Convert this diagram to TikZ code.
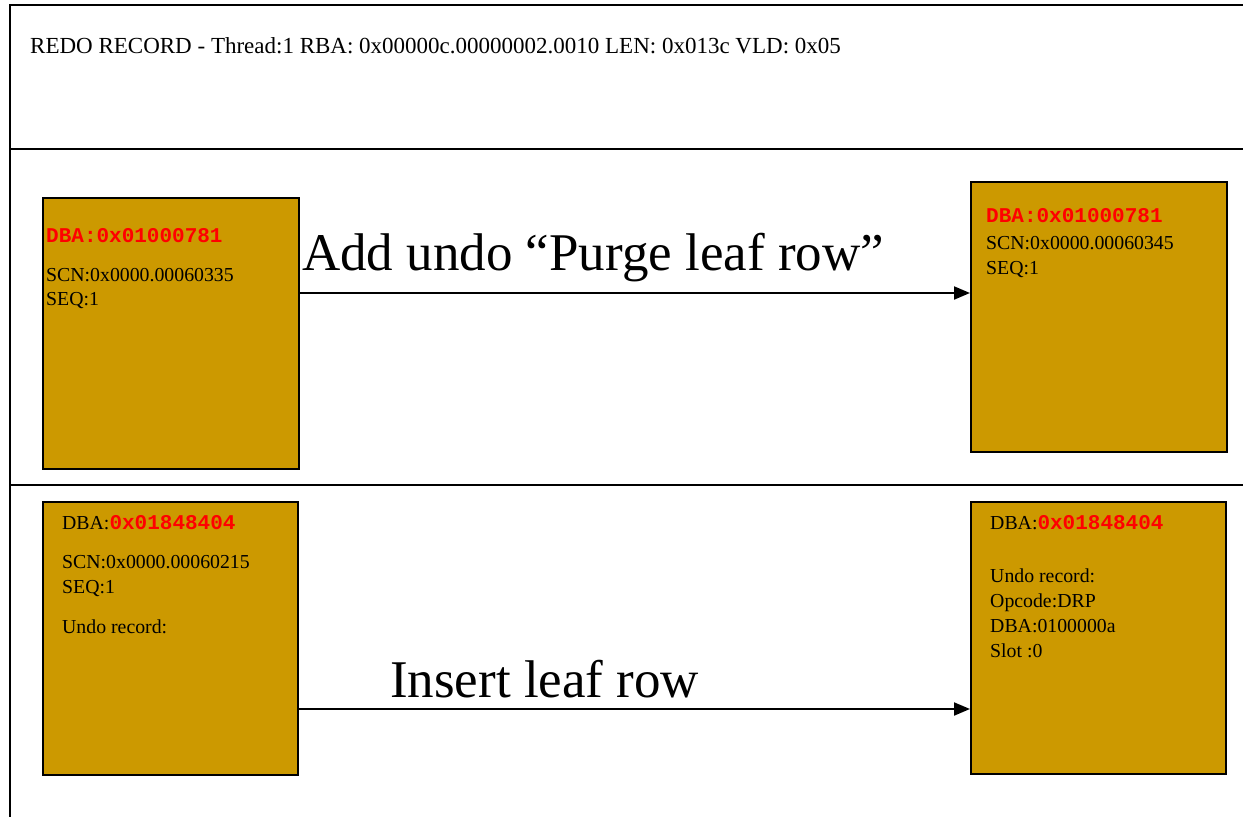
\documentclass[tikz,border=0pt]{standalone}
\usepackage{fontspec}
\setmainfont{Liberation Serif}
\setmonofont{Liberation Mono}
\usetikzlibrary{arrows.meta}
\definecolor{blockfill}{HTML}{CC9900}
\definecolor{addrred}{HTML}{FF0000}
\newcommand{\addr}[1]{{\ttfamily\bfseries\fontsize{21}{24}\selectfont\color{addrred}#1}}
\begin{document}
\begin{tikzpicture}[x=1pt,y=-1pt,
  frameline/.style={line width=2pt},
  block/.style={draw=black, line width=2pt, fill=blockfill, anchor=north west,
    inner sep=0pt, minimum width=256pt, minimum height=271pt},
  shade/.style={fill=black!35, draw=none, anchor=north west, inner sep=0pt,
    minimum width=256pt, minimum height=271pt},
  txt/.style={anchor=base west, inner sep=0pt, font=\fontsize{19.8}{23}\selectfont},
  bigtxt/.style={anchor=base west, inner sep=0pt, font=\fontsize{53}{62}\selectfont},
  flow/.style={line width=2pt, -{Triangle[length=16pt,width=13pt]}}]
\useasboundingbox (0,0) rectangle (1243,817);

% record frame and section separators
\coordinate (ftl) at (10,5);
\coordinate (ftr) at (1243,5);
\coordinate (fbl) at (10,817);
\coordinate (s1l) at (10,149);
\coordinate (s1r) at (1243,149);
\coordinate (s2l) at (10,485);
\coordinate (s2r) at (1243,485);
\draw[frameline] (fbl) -- (ftl) -- (ftr);
\draw[frameline] (s1l) -- (s1r);
\draw[frameline] (s2l) -- (s2r);

\node[txt, font=\fontsize{23}{27}\selectfont] (title) at (30,53)
  {REDO RECORD - Thread:1 RBA: 0x00000c.00000002.0010 LEN: 0x013c VLD: 0x05};

% light drop shadows
\node[shade] at (44,199) {};
\node[shade, minimum height=270pt] at (972,183) {};
\node[shade, minimum width=255pt, minimum height=273pt] at (44,503) {};
\node[shade, minimum width=255pt, minimum height=272pt] at (972,503) {};

% blocks
\node[block] (b1) at (42,197) {};
\node[block, minimum height=270pt] (b2) at (970,181) {};
\node[block, minimum width=255pt, minimum height=273pt] (b3) at (42,501) {};
\node[block, minimum width=255pt, minimum height=272pt] (b4) at (970,501) {};

% block 1
\node[txt] (b1a) at (46,242) {\addr{DBA:0x01000781}};
\node[txt] (b1b) at (46,281) {SCN:0x0000.00060335};
\node[txt] (b1c) at (46,305) {SEQ:1};

% block 2
\node[txt] (b2a) at (986,222) {\addr{DBA:0x01000781}};
\node[txt] (b2b) at (986,249) {SCN:0x0000.00060345};
\node[txt] (b2c) at (986,274) {SEQ:1};

% block 3
\node[txt] (b3a) at (62,529) {DBA:\addr{0x01848404}};
\node[txt] (b3b) at (62,568) {SCN:0x0000.00060215};
\node[txt] (b3c) at (62,593) {SEQ:1};
\node[txt] (b3d) at (62,633) {Undo record:};

% block 4
\node[txt] (b4a) at (990,529) {DBA:\addr{0x01848404}};
\node[txt] (b4b) at (990,582) {Undo record:};
\node[txt] (b4c) at (990,607) {Opcode:DRP};
\node[txt] (b4d) at (990,632) {DBA:0100000a};
\node[txt] (b4e) at (990,657) {Slot :0};

% changes
\coordinate (r1) at (0,293);
\coordinate (r2) at (0,709);
\draw[flow] (b1.east |- r1) -- (b2.west |- r1);
\draw[flow] (b3.east |- r2) -- (b4.west |- r2);
\node[bigtxt] (l1) at (302,270) {Add undo “Purge leaf row”};
\node[bigtxt] (l2) at (390,697) {Insert leaf row};
\end{tikzpicture}
\end{document}
